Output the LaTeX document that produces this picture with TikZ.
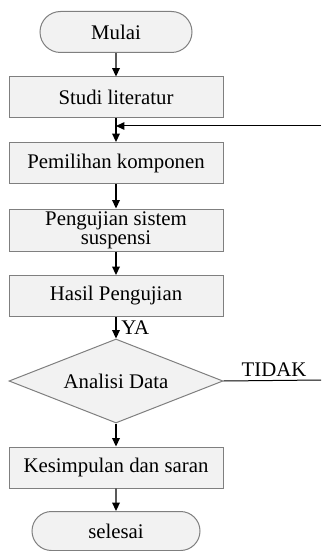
\documentclass[tikz,border=0pt]{standalone}
\usepackage{fontspec}
\setmainfont{Liberation Serif}
\usepackage{xcolor}
\usetikzlibrary{shapes.geometric, shapes.misc, arrows.meta}

\definecolor{boxfill}{HTML}{F2F2F2}
\definecolor{boxline}{HTML}{7F7F7F}

\begin{document}
\begin{tikzpicture}[x=0.5pt, y=-0.5pt,
  font=\rmfamily\fontsize{10.4}{11}\selectfont,
  proses/.style={draw=boxline, fill=boxfill, line width=0.5pt, minimum width=107pt, minimum height=20.5pt, inner sep=1pt, align=center},
  terminal/.style={draw=boxline, fill=boxfill, line width=0.5pt, rounded rectangle, minimum height=20.5pt, inner sep=1pt},
  keputusan/.style={draw=boxline, fill=boxfill, line width=0.5pt, diamond, aspect=2.5, minimum width=107pt, minimum height=42pt, inner sep=0pt},
  arrow/.style={-{Triangle[length=4.2pt, width=3.8pt]}, black, line width=0.7pt}]
  \useasboundingbox (0,0) rectangle (321,551);

  % Blocks
  \node[terminal, minimum width=78pt] (mulai) at (116,32) {Mulai};
  \node[proses] (studi) at (116,97.5) {Studi literatur};
  \node[proses] (pilih) at (116,163) {Pemilihan komponen};
  \node[proses, minimum height=21pt] (uji) at (116,230) {Pengujian sistem\\[-1.5pt]suspensi};
  \node[proses] (hasil) at (116,296) {Hasil Pengujian};
  \node[keputusan] (analisa) at (116,381) {Analisi Data};
  \node[proses] (simpul) at (116,467.5) {Kesimpulan dan saran};
  \node[terminal, minimum width=86pt, minimum height=19.5pt] (selesai) at (116,531) {selesai};

  % Arrows between blocks
  \draw[arrow] (mulai) -- (studi);
  \draw[arrow] (studi) -- (pilih);
  \draw[arrow] (pilih) -- (uji);
  \draw[arrow] (uji) -- (hasil);
  \draw[arrow] (hasil) -- node[right, xshift=-1pt] {YA} (analisa);
  \draw[arrow] (analisa) -- (simpul);
  \draw[arrow] (simpul) -- (selesai);

  % Loop back (TIDAK)
  \coordinate (balik) at (321,126);
  \coordinate (tidak) at (321,380);
  \draw[arrow, line width=0.5pt] (balik) -- (balik -| studi.south);
  \draw[black, line width=0.5pt] (analisa.east) -- (tidak);
  \node[above, inner sep=1.5pt] (labeltidak) at (274,380) {TIDAK};
\end{tikzpicture}
\end{document}
